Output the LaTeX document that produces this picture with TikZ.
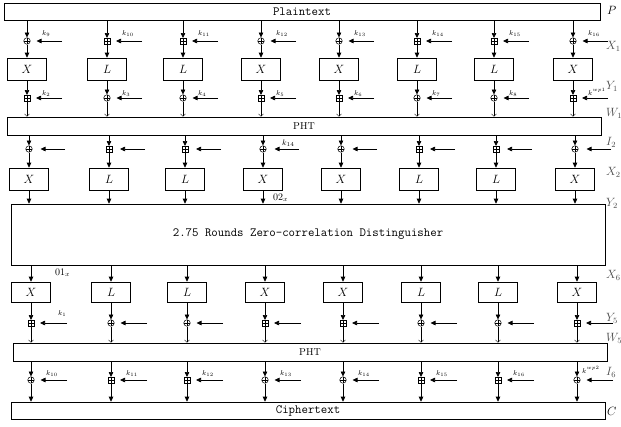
\documentclass[tikz,border=0pt]{standalone}
\usepackage{fontspec}
\usepackage{amsmath,amssymb}
\usepackage{tikz}
\usetikzlibrary{arrows.meta}
\tikzstyle{arr}=[line width=.7pt,>/.tip={Triangle[length=5pt,width=4.5pt]},->]
\tikzstyle{thin}=[line width=.4pt,>/.tip={Straight Barb[length=2.5pt,width=5pt]},->]
\tikzstyle{keyin}=[arr,shorten >=6pt]
\tikzstyle{wide}=[draw,line width=.6pt,inner sep=0pt,font=\fontsize{12.5}{14}\selectfont\ttfamily]
\tikzstyle{fbox}=[draw,line width=.6pt,minimum width=39pt,minimum height=22pt,inner sep=0pt,font=\large]
\tikzstyle{plus}=[path picture={\draw[line width=.45pt] (path picture bounding box.north) -- (path picture bounding box.south)
                                 (path picture bounding box.west) -- (path picture bounding box.east);}]
\tikzstyle{xorop}=[circle,draw,line width=.5pt,inner sep=0pt,minimum size=6.5pt,plus]
\tikzstyle{addop}=[rectangle,draw,line width=.5pt,inner sep=0pt,minimum size=5.5pt,plus]
\tikzstyle{klab}=[inner sep=0pt,anchor=base west,font=\scriptsize]
\tikzstyle{side}=[inner sep=0pt,anchor=west,font=\large,text=black!70]
\newcommand\kk[1]{$k_{#1}$}
\newcommand\kw[1]{$k^{wp#1}$}

\begin{document}
\begin{tikzpicture}[x=1pt,y=-1pt]
	\useasboundingbox (0,0) rectangle (621,426);
	\node[wide,minimum width=596pt,minimum height=17pt] (plain) at (302,11.5) {Plaintext};
	\node[wide,minimum width=594pt,minimum height=18pt,font=\normalsize] (pht1) at (304,126) {PHT};
	\node[wide,minimum width=594pt,minimum height=61pt] (dist) at (308,234.5) {2.75 Rounds Zero-correlation Distinguisher};
	\node[wide,minimum width=594pt,minimum height=18pt,font=\normalsize] (pht2) at (310,352) {PHT};
	\node[wide,minimum width=594pt,minimum height=17pt] (ciph) at (308,410.5) {Ciphertext};
	\foreach \i/\x/\s/\f/\t in {1/28/xorop/X/addop, 2/108/addop/L/xorop, 3/184/addop/L/xorop, 4/262/xorop/X/addop,
	                            5/340/xorop/X/addop, 6/418/addop/L/xorop, 7/495/addop/L/xorop, 8/574/xorop/X/addop} {
		\pgfmathsetmacro\xa{\x-1}
		\pgfmathsetmacro\xb{\x+1}
		\pgfmathsetmacro\xc{\x+3}
		\pgfmathtruncatemacro\ka{\i+8}
		\pgfmathtruncatemacro\kb{\i+1}
		\pgfmathtruncatemacro\kc{\i+9}
		% round 1
		\node[\s] (o1-\i) at (\xa,41) {};
		\node[fbox] (b1-\i) at (\xa,69) {$\f$};
		\node[\t] (p1-\i) at (\xa,98) {};
		\coordinate (ko1-\i) at (\xa+35,41);
		\coordinate (kp1-\i) at (\xa+35,98);
		\draw[arr] (o1-\i |- plain.south) -- (o1-\i);
		\draw[arr] (o1-\i) -- (b1-\i);
		\draw[arr] (b1-\i) -- (p1-\i);
		\draw[thin] (p1-\i) -- (p1-\i |- pht1.north);
		\draw[keyin] (ko1-\i) -- (o1-\i);
		\draw[keyin] (kp1-\i) -- (p1-\i);
		\node[klab] at (\xa+15,35) {\kk{\ka}};
		\ifnum\i<8 \node[klab] at (\xa+15,95) {\kk{\kb}}; \else \node[klab] at (\xa+15,95) {\kw1}; \fi
		% round 2
		\node[\s] (o2-\i) at (\xb,149) {};
		\node[fbox] (b2-\i) at (\xb,179) {$\f$};
		\coordinate (ko2-\i) at (\xb+36,149);
		\draw[arr] (o2-\i |- pht1.south) -- (o2-\i);
		\draw[arr] (o2-\i) -- (b2-\i);
		\draw[arr] (b2-\i) -- (b2-\i |- dist.north);
		\draw[keyin,shorten >=8pt] (ko2-\i) -- (o2-\i);
		% round 5
		\node[fbox,minimum height=20pt] (b3-\i) at (\xc,292) {$\f$};
		\node[\t] (p3-\i) at (\xc,323) {};
		\coordinate (kp3-\i) at (\xc+36,323);
		\draw[arr] (b3-\i |- dist.south) -- (b3-\i);
		\draw[arr] (b3-\i) -- (p3-\i);
		\draw[thin] (p3-\i) -- (p3-\i |- pht2.north);
		\draw[keyin] (kp3-\i) -- (p3-\i);
		% output whitening
		\node[\s] (o4-\i) at (\xc,380) {};
		\coordinate (ko4-\i) at (\xc+36,380);
		\draw[arr] (o4-\i |- pht2.south) -- (o4-\i);
		\draw[arr] (o4-\i) -- (o4-\i |- ciph.north);
		\draw[keyin] (ko4-\i) -- (o4-\i);
		\ifnum\i<8 \node[klab] at (\xc+15,375) {\kk{\kc}}; \else \node[klab] at (\xc+5,373) {\kw2}; \fi
	}
	\node[klab,font=\footnotesize] (k14) at (282,145) {$k_{14}$};
	\node[klab] (k1) at (58,315) {$k_1$};
	\node[inner sep=0pt,anchor=west] (c02) at (273,198) {$02_x$};
	\node[inner sep=0pt,anchor=west] (c01) at (55,273) {$01_x$};
	\node[side,text=black] (lP) at (607,10) {$P$};
	\node[side] (lX1) at (606,46) {$X_1$};
	\node[side] (lY1) at (606,86) {$Y_1$};
	\node[side] (lW1) at (606,113) {$W_1$};
	\node[side] (lI2) at (606,142) {$I_2$};
	\node[side] (lX2) at (606,172) {$X_2$};
	\node[side] (lY2) at (606,203) {$Y_2$};
	\node[side] (lX6) at (606,275) {$X_6$};
	\node[side] (lY5) at (606,318) {$Y_5$};
	\node[side] (lW5) at (606,338) {$W_5$};
	\node[side] (lI6) at (606,372) {$I_6$};
	\node[side,text=black] (lC) at (607,411) {$C$};
\end{tikzpicture}
\end{document}
